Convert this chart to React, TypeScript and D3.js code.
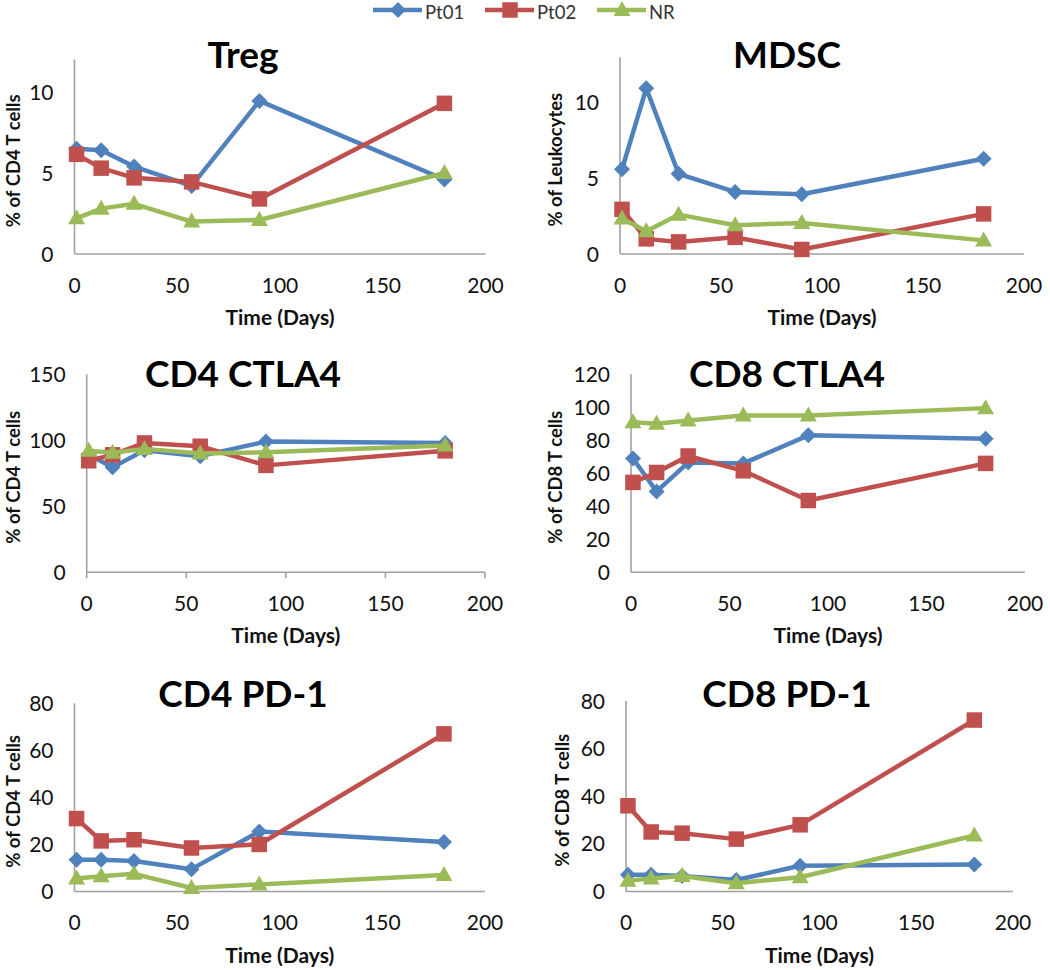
import React from "react";
import * as d3 from "d3";

// ---- data ----
const days = [1, 13, 29, 57, 90, 180];
const seriesNames = ["Pt01", "Pt02", "NR"];
const xTicks = [0, 50, 100, 150, 200];

const tregPt01 = [6.5, 6.4, 5.4, 4.2, 9.45, 4.6];
const tregPt02 = [6.15, 5.3, 4.7, 4.45, 3.4, 9.3];
const tregNR = [2.2, 2.8, 3.1, 2.0, 2.1, 5.0];

const mdscPt01 = [5.6, 10.95, 5.3, 4.1, 3.95, 6.3];
const mdscPt02 = [2.95, 1.0, 0.8, 1.1, 0.3, 2.65];
const mdscNR = [2.35, 1.5, 2.6, 1.9, 2.05, 0.9];

const cd4ctla4Pt01 = [89, 79.5, 92.5, 88, 99, 98];
const cd4ctla4Pt02 = [84.5, 89, 98, 95.5, 81, 92];
const cd4ctla4NR = [92, 90.5, 93.5, 90, 91, 96];

const cd8ctla4Pt01 = [69, 49, 66.5, 66, 83, 81];
const cd8ctla4Pt02 = [54.5, 60.5, 70.5, 61.5, 43.5, 66];
const cd8ctla4NR = [91, 90, 92, 95, 95, 99.5];

const cd4pd1Pt01 = [13.5, 13.5, 13, 9.5, 25.5, 21];
const cd4pd1Pt02 = [31, 21.5, 22, 18.5, 20, 67];
const cd4pd1NR = [5.5, 6.5, 7.5, 1.5, 3, 7];

const cd8pd1Pt01 = [7, 7, 6.5, 4.8, 10.8, 11.3];
const cd8pd1Pt02 = [36, 25, 24.5, 22, 28, 72];
const cd8pd1NR = [4.5, 5.5, 6.5, 3.5, 6, 23.5];

const titles = ["Treg", "MDSC", "CD4 CTLA4", "CD8 CTLA4", "CD4 PD-1", "CD8 PD-1"];
const yLabels = [
  "% of CD4 T cells",
  "% of Leukocytes",
  "% of CD4 T cells",
  "% of CD8 T cells",
  "% of CD4 T cells",
  "% of CD8 T cells",
];
const yTickSets = [
  [0, 5, 10],
  [0, 5, 10],
  [0, 50, 100, 150],
  [0, 20, 40, 60, 80, 100, 120],
  [0, 20, 40, 60, 80],
  [0, 20, 40, 60, 80],
];
const yMaxes = [12, 13, 150, 120, 80, 80];
const panelValues = [
  [tregPt01, tregPt02, tregNR],
  [mdscPt01, mdscPt02, mdscNR],
  [cd4ctla4Pt01, cd4ctla4Pt02, cd4ctla4NR],
  [cd8ctla4Pt01, cd8ctla4Pt02, cd8ctla4NR],
  [cd4pd1Pt01, cd4pd1Pt02, cd4pd1NR],
  [cd8pd1Pt01, cd8pd1Pt02, cd8pd1NR],
];

// ---- layout / style ----
const colors = ["#4F81BD", "#C0504D", "#9BBB59"];
const FONT = "Lato, 'Open Sans', sans-serif";
const layouts = [
  { x0: 74.5, x1: 485.5, yb: 254, yt: 59.6, ylx: 19.5, ticks: false },
  { x0: 620, x1: 1024, yb: 254, yt: 57.3, ylx: 562, ticks: false },
  { x0: 86.7, x1: 485, yb: 572.3, yt: 374.3, ylx: 19.5, ticks: true },
  { x0: 631, x1: 1025, yb: 572.3, yt: 374.3, ylx: 562, ticks: false },
  { x0: 74.5, x1: 485, yb: 891.5, yt: 703.3, ylx: 19.5, ticks: false },
  { x0: 626, x1: 1013, yb: 891.5, yt: 701, ylx: 569, ticks: false },
];

function Marker({ kind, x, y, color }: { kind: number; x: number; y: number; color: string }) {
  if (kind === 0) {
    const r = 8;
    return <path d={`M${x},${y - r}L${x + r},${y}L${x},${y + r}L${x - r},${y}Z`} fill={color} />;
  }
  if (kind === 1) {
    const s = 15.5;
    return <rect x={x - s / 2} y={y - s / 2} width={s} height={s} fill={color} />;
  }
  const w = 17, h = 15;
  return (
    <path d={`M${x},${y - h * 0.6}L${x + w / 2},${y + h * 0.4}L${x - w / 2},${y + h * 0.4}Z`} fill={color} />
  );
}

function Panel({ i }: { i: number }) {
  const L = layouts[i];
  const x = d3.scaleLinear().domain([0, 200]).range([L.x0, L.x1]);
  const y = d3.scaleLinear().domain([0, yMaxes[i]]).range([L.yb, L.yt]);
  const line = d3
    .line<[number, number]>()
    .x((d) => x(d[0]))
    .y((d) => y(d[1]));
  const cx = (L.x0 + L.x1) / 2;
  const titleY = i < 2 ? 68 : i < 4 ? 387 : 707;
  const yMid = (L.yb + y(yMaxes[i])) / 2 + 4;
  return (
    <g>
      <line x1={L.x0} x2={L.x0} y1={y(yMaxes[i])} y2={L.yb} stroke="#A0A0A0" strokeWidth={1.6} />
      <line x1={L.x0} x2={L.x1} y1={L.yb} y2={L.yb} stroke="#A0A0A0" strokeWidth={1.6} />
      {L.ticks &&
        xTicks.map((t) => (
          <line key={"tk" + t} x1={x(t)} x2={x(t)} y1={L.yb} y2={L.yb + 6} stroke="#A0A0A0" strokeWidth={1.6} />
        ))}
      {xTicks.map((t) => (
        <text key={"xt" + t} x={x(t)} y={L.yb + 38.5} fontSize={21} textAnchor="middle" fill="#111" fontFamily={FONT}>
          {t}
        </text>
      ))}
      {yTickSets[i].map((t) => (
        <text
          key={"yt" + t}
          x={L.x0 - 21}
          y={y(t)}
          dy="0.36em"
          fontSize={21}
          textAnchor="end"
          fill="#111"
          fontFamily={FONT}
        >
          {t}
        </text>
      ))}
      <text x={cx} y={L.yb + 71} fontSize={21} fontWeight="bold" textAnchor="middle" fill="#111" fontFamily={FONT}>
        Time (Days)
      </text>
      <text
        transform={`translate(${L.ylx},${yMid}) rotate(-90)`}
        fontSize={18.5}
        fontWeight="bold"
        textAnchor="middle"
        fill="#111"
        fontFamily={FONT}
      >
        {yLabels[i]}
      </text>
      <text x={i % 2 === 0 ? 243 : 787} y={titleY} fontSize={37} fontWeight="bold" textAnchor="middle" fill="#000" fontFamily={FONT}>
        {titles[i]}
      </text>
      {panelValues[i].map((vals, s) => {
        const pts = days.map((d, k) => [d, vals[k]] as [number, number]);
        return (
          <g key={"s" + s}>
            <path d={line(pts) || ""} fill="none" stroke={colors[s]} strokeWidth={4.5} strokeLinejoin="round" />
            {pts.map((p, k) => (
              <Marker key={k} kind={s} x={x(p[0])} y={y(p[1])} color={colors[s]} />
            ))}
          </g>
        );
      })}
    </g>
  );
}

const legendX = [373, 485, 597];

export default function App() {
  return (
    <svg
      width={1050}
      height={970}
      style={{ position: "absolute", left: 0, top: 0, background: "#fff" }}
      fontFamily={FONT}
    >
      <rect width={1050} height={970} fill="#fff" />
      {seriesNames.map((n, s) => (
        <g key={n}>
          <line x1={legendX[s]} x2={legendX[s] + 49} y1={10} y2={10} stroke={colors[s]} strokeWidth={4.5} />
          <Marker kind={s} x={legendX[s] + 25} y={10} color={colors[s]} />
          <text x={legendX[s] + 52} y={19} fontSize={18.5} fill="#333" fontFamily={FONT}>
            {n}
          </text>
        </g>
      ))}
      {titles.map((t, i) => (
        <Panel key={t} i={i} />
      ))}
    </svg>
  );
}
